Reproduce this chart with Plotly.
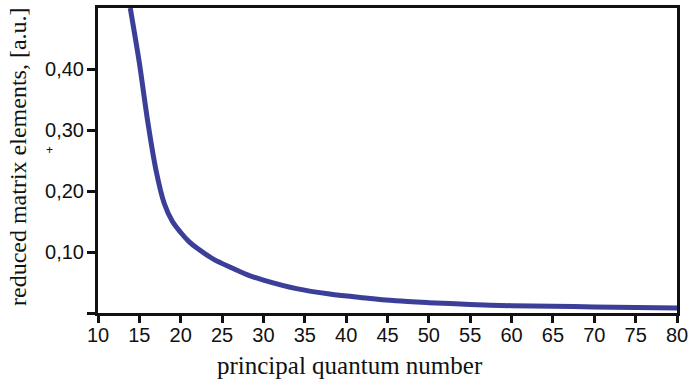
import plotly.graph_objects as go

n_values = [13.9, 15, 16, 17, 18, 19, 20, 21, 22, 24, 26, 28, 30, 34, 38, 42, 46, 50, 55, 60, 65, 70, 75, 80]
matrix_elements = [0.50, 0.41, 0.315, 0.235, 0.18, 0.15, 0.132, 0.117, 0.106, 0.088, 0.075, 0.063, 0.054, 0.040, 0.031, 0.025, 0.020, 0.017, 0.014, 0.012, 0.011, 0.010, 0.009, 0.008]

x_ticks = [10, 15, 20, 25, 30, 35, 40, 45, 50, 55, 60, 65, 70, 75, 80]
y_ticks = [0, 0.10, 0.20, 0.30, 0.40]
y_tick_labels = ["", "0,10", "0,20", "0,30", "0,40"]

PLOT_L, PLOT_R, PLOT_T, PLOT_B = 98, 677, 8, 313
W, H = 691, 382
pw, ph = PLOT_R - PLOT_L, PLOT_B - PLOT_T

fig = go.Figure()
fig.add_trace(go.Scatter(
    x=n_values, y=matrix_elements, mode="lines",
    line=dict(color="#3b3f98", width=5, shape="spline", smoothing=0.8),
    hoverinfo="skip",
))

fig.update_layout(
    width=W, height=H,
    margin=dict(l=PLOT_L, r=W - PLOT_R, t=PLOT_T, b=H - PLOT_B, autoexpand=False),
    paper_bgcolor="white", plot_bgcolor="white",
    showlegend=False,
    font=dict(family="Liberation Sans, Arial, sans-serif", size=17, color="#111"),
)
fig.update_xaxes(
    range=[10, 80], tickvals=x_ticks, automargin=False,
    showline=True, linewidth=3, linecolor="#111", mirror=True,
    ticks="outside", ticklen=7, tickwidth=3, tickcolor="#111",
    showgrid=False, zeroline=False, ticklabelstandoff=-5,
    tickfont=dict(family="Liberation Sans, Arial, sans-serif", size=20),
)
fig.update_yaxes(
    range=[0, 0.5], tickvals=y_ticks, ticktext=y_tick_labels, automargin=False,
    showline=True, linewidth=3, linecolor="#111", mirror=True,
    ticks="outside", ticklen=8, tickwidth=3, tickcolor="#111",
    showgrid=False, zeroline=False, ticklabelstandoff=-1,
    tickfont=dict(family="Liberation Sans, Arial, sans-serif", size=20),
)
fig.add_annotation(text="principal quantum number", xref="paper", yref="paper",
                   x=(350 - PLOT_L) / pw, y=-(365 - PLOT_B) / ph, showarrow=False,
                   xanchor="center", yanchor="middle",
                   font=dict(family="Liberation Serif, Times New Roman, serif", size=25, color="#111"))
fig.add_annotation(text="reduced matrix elements, [a.u.]", xref="paper", yref="paper",
                   x=(18 - PLOT_L) / pw, y=(313 - 157) / ph, textangle=-90, showarrow=False,
                   xanchor="center", yanchor="middle",
                   font=dict(family="Liberation Serif, Times New Roman, serif", size=24, color="#111"))
fig.add_annotation(text="+", xref="paper", yref="paper", x=(49 - PLOT_L) / pw, y=(313 - 150) / ph,
                   xanchor="center", yanchor="middle",
                   showarrow=False, font=dict(size=12, color="#111"))

fig.write_html("out.html", config={"displayModeBar": False},
               post_script="document.body.style.margin='0';document.body.style.padding='0';")
